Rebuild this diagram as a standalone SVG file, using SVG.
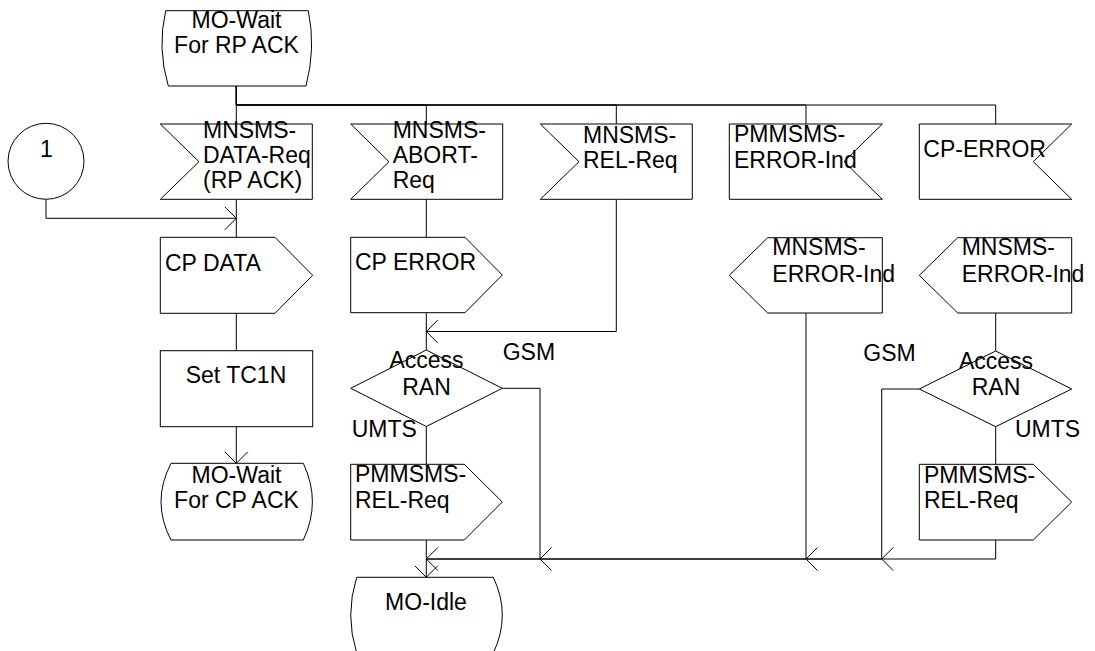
<svg xmlns="http://www.w3.org/2000/svg" width="1095" height="651" viewBox="0 0 1095 651">
<style>
  .s { fill: #ffffff; stroke: #000000; stroke-width: 1; }
  .c { fill: none; stroke: #000000; stroke-width: 1; }
  text { font-family: "Liberation Sans", Arial, sans-serif; font-size: 23px; fill: #000000; }
  .m { text-anchor: middle; }
</style>
<defs>
  <marker id="arr" markerUnits="userSpaceOnUse" markerWidth="24" markerHeight="24" refX="0" refY="0" orient="auto" overflow="visible">
    <path d="M-11.5,-11.5 L0,0 L-11.5,11.5" fill="none" stroke="#000000" stroke-width="1"/>
  </marker>
</defs>
<rect x="0" y="0" width="1095" height="651" fill="#ffffff"/>

<g id="connectors">
  <path class="c" d="M236.3,86 V124"/>
  <path class="c" d="M236.3,86 V105 H426.3 V124"/>
  <path class="c" d="M236.3,86 V105 H616.3 V124"/>
  <path class="c" d="M236.3,86 V105 H806 V124"/>
  <path class="c" d="M236.3,86 V105 H995.7 V124"/>
  <path class="c" d="M236.3,199.3 V237.3"/>
  <path class="c" d="M46,199.3 V218.3 H236.3" marker-end="url(#arr)"/>
  <path class="c" d="M236.3,313.3 V350.7"/>
  <path class="c" d="M236.3,426.7 V463.3" marker-end="url(#arr)"/>
  <path class="c" d="M426.3,199.3 V237.3"/>
  <path class="c" d="M426.3,312.7 V350"/>
  <path class="c" d="M616.3,199.3 V331.5 H426.3" marker-end="url(#arr)"/>
  <path class="c" d="M426.3,426.5 V464.3"/>
  <path class="c" d="M995.7,313 V351"/>
  <path class="c" d="M806,313 V559 H540" marker-end="url(#arr)"/>
  <path class="c" d="M995.7,426.7 V464.3"/>
  <path class="c" d="M995.7,540 V559 H881.7" marker-end="url(#arr)"/>
  <path class="c" d="M919.3,389 H881.7 V559 H806" marker-end="url(#arr)"/>
  <path class="c" d="M502.3,388.3 H540 V559 H426.3" marker-end="url(#arr)"/>
  <path class="c" d="M881.7,559 H426.3"/>
  <path class="c" d="M426.3,540 V577.3" marker-end="url(#arr)"/>
</g>

<g id="state_wait_rp_ack">
  <path class="s" d="M165.7,10.7 L308.3,10.7 Q316,48 306,86 L168.3,86 Q157,48 165.7,10.7 Z"/>
  <text class="m" x="236.5" y="28.3">MO-Wait</text>
  <text class="m" x="236.5" y="53.3">For RP ACK</text>
</g>

<g id="connector_1">
  <circle class="s" cx="46" cy="161.3" r="38"/>
  <text class="m" x="46.5" y="157">1</text>
</g>

<g id="in_data_req">
  <path class="s" d="M160.3,124 H312.3 V199.3 H160.3 L199,161.7 Z"/>
  <text x="203" y="138.3">MNSMS-</text>
  <text x="203" y="163.3">DATA-Req</text>
  <text x="203" y="188.3">(RP ACK)</text>
</g>

<g id="in_abort_req">
  <path class="s" d="M350.7,124 H502.7 V199.3 H350.7 L389,161.7 Z"/>
  <text x="392.7" y="138">MNSMS-</text>
  <text x="392.7" y="163">ABORT-</text>
  <text x="392.7" y="188.3">Req</text>
</g>

<g id="in_rel_req">
  <path class="s" d="M540.3,124 H692.3 V199.3 H540.3 L579,161.7 Z"/>
  <text x="583" y="143.3">MNSMS-</text>
  <text x="583" y="168.3">REL-Req</text>
</g>

<g id="in_pmmsms_error_ind">
  <path class="s" d="M729.3,124 H882.3 L844,161.7 L882.3,199.3 H729.3 Z"/>
  <text x="734" y="142">PMMSMS-</text>
  <text x="734" y="168.3">ERROR-Ind</text>
</g>

<g id="in_cp_error">
  <path class="s" d="M919.3,124 H1071.7 L1033.3,161.7 L1071.7,199.3 H919.3 Z"/>
  <text x="923.3" y="156.7">CP-ERROR</text>
</g>

<g id="out_cp_data">
  <path class="s" d="M160.3,237.3 H275 L312.7,275.3 L275,313.3 H160.3 Z"/>
  <text x="165" y="270.7">CP DATA</text>
</g>

<g id="out_cp_error">
  <path class="s" d="M350.7,237.3 H465 L502.3,275 L465,312.7 H350.7 Z"/>
  <text x="355" y="270">CP ERROR</text>
</g>

<g id="out_mnsms_error_ind_1">
  <path class="s" d="M882.3,237.7 V313 H767.7 L729.3,275.3 L767.7,237.7 Z"/>
  <text x="772.3" y="255">MNSMS-</text>
  <text x="772.3" y="281.7">ERROR-Ind</text>
</g>

<g id="out_mnsms_error_ind_2">
  <path class="s" d="M1071.7,237.7 V313 H957.7 L919.3,275.3 L957.7,237.7 Z"/>
  <text x="961.7" y="255">MNSMS-</text>
  <text x="961.7" y="281.7">ERROR-Ind</text>
</g>

<g id="task_set_tc1n">
  <rect class="s" x="160.3" y="350.7" width="152.4" height="76"/>
  <text x="185.7" y="383.3">Set TC1N</text>
</g>

<g id="dec_access_ran_1">
  <path class="s" d="M426.3,350 L502.3,388.3 L426.3,426.5 L350.7,388.3 Z"/>
  <text class="m" x="426.5" y="368.3">Access</text>
  <text class="m" x="426.5" y="395">RAN</text>
  <text x="502.7" y="360">GSM</text>
  <text x="351.7" y="436.7">UMTS</text>
</g>

<g id="dec_access_ran_2">
  <path class="s" d="M995.7,351 L1071.7,389 L995.7,426.7 L919.3,389 Z"/>
  <text class="m" x="996" y="369.3">Access</text>
  <text class="m" x="996" y="395">RAN</text>
  <text x="863.3" y="361">GSM</text>
  <text x="1015" y="436.7">UMTS</text>
</g>

<g id="out_pmmsms_rel_req_1">
  <path class="s" d="M350.7,464.3 H464.3 L502.3,502 L464.3,540 H350.7 Z"/>
  <text x="355" y="481.7">PMMSMS-</text>
  <text x="355" y="508.3">REL-Req</text>
</g>

<g id="out_pmmsms_rel_req_2">
  <path class="s" d="M919.3,464.3 H1033.3 L1071.7,502 L1033.3,540 H919.3 Z"/>
  <text x="924" y="482.7">PMMSMS-</text>
  <text x="924" y="508.3">REL-Req</text>
</g>

<g id="state_wait_cp_ack">
  <path class="s" d="M171,463.3 L303.3,463.3 Q321.5,501.7 303.3,540 L171,540 Q151,501.7 171,463.3 Z"/>
  <text class="m" x="236.5" y="482.7">MO-Wait</text>
  <text class="m" x="236.5" y="508.3">For CP ACK</text>
</g>

<g id="state_idle">
  <path class="s" d="M356.7,577.3 L493.3,577.3 Q511.3,615 493.3,653 L356.7,653 Q344.7,615 356.7,577.3 Z"/>
  <text class="m" x="426" y="610">MO-Idle</text>
</g>
</svg>
